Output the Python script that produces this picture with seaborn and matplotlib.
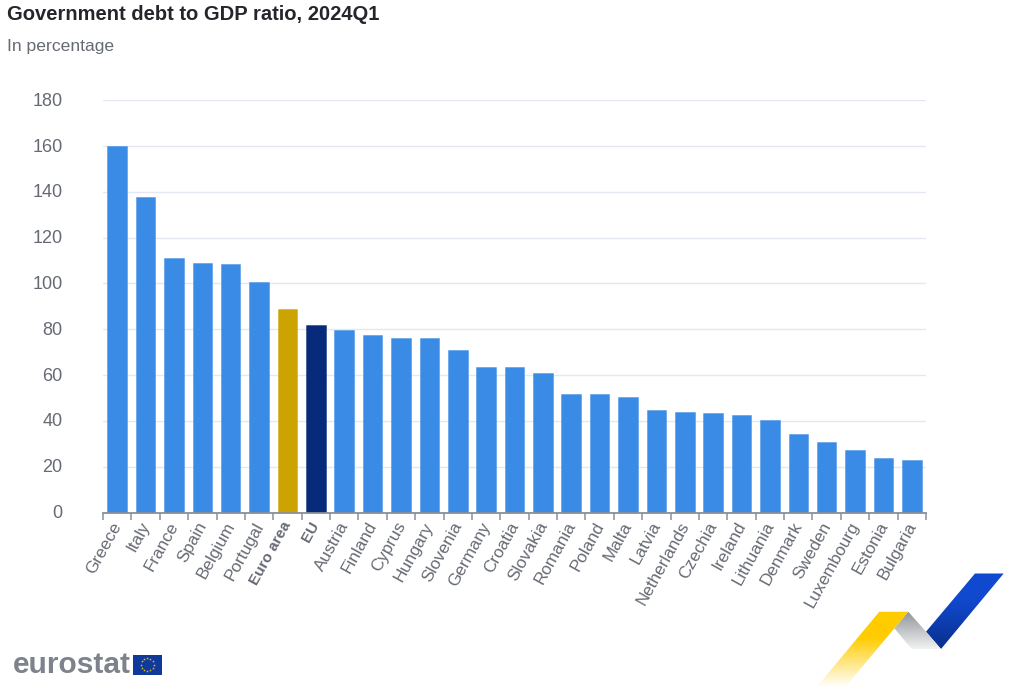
# Government debt to GDP ratio, 2024Q1 (eurostat style bar chart)
import numpy as np
import pandas as pd
import matplotlib
matplotlib.use("Agg")
import matplotlib.pyplot as plt
from matplotlib.patches import Polygon, Rectangle
from matplotlib.transforms import ScaledTranslation
import seaborn as sns

countries = ["Greece", "Italy", "France", "Spain", "Belgium", "Portugal", "Euro area", "EU",
             "Austria", "Finland", "Cyprus", "Hungary", "Slovenia", "Germany", "Croatia",
             "Slovakia", "Romania", "Poland", "Malta", "Latvia", "Netherlands", "Czechia",
             "Ireland", "Lithuania", "Denmark", "Sweden", "Luxembourg", "Estonia", "Bulgaria"]
debt = [160.0, 137.8, 111.0, 109.1, 108.4, 100.5, 89.0, 82.0,
        79.8, 77.5, 76.2, 76.1, 70.9, 63.4, 63.4,
        60.8, 51.6, 51.6, 50.4, 44.6, 44.0, 43.4,
        42.6, 40.3, 34.1, 30.9, 27.2, 23.7, 22.8]
yticks = [0, 20, 40, 60, 80, 100, 120, 140, 160, 180]

BLUE, GOLD, NAVY = "#3a8be6", "#cca300", "#082a7a"
TXT = "#666a73"

sns.set_theme(style="white")
plt.rcParams["font.family"] = ["Liberation Sans", "DejaVu Sans"]

df = pd.DataFrame({"country": countries, "debt": debt})
palette = {c: BLUE for c in countries}
palette["Euro area"] = GOLD
palette["EU"] = NAVY

W, H = 1028, 687
fig = plt.figure(figsize=(W / 100, H / 100), dpi=100, facecolor="white")
ax = fig.add_axes([103 / W, 1 - 512.5 / H, 823 / W, 412.3 / H])

sns.barplot(data=df, x="country", y="debt", hue="country", palette=palette,
            legend=False, width=0.69, saturation=1, ax=ax, zorder=3)

# thin lighter outline around the bars
for bar in ax.patches:
    fc = bar.get_facecolor()
    bar.set_edgecolor((fc[0], fc[1], fc[2], 0.45))
    bar.set_linewidth(0.7)

ax.set_xlim(-0.5, len(countries) - 0.5)
ax.set_ylim(0, 180)
ax.set_xlabel("")
ax.set_ylabel("")
ax.set_yticks(yticks)
ax.grid(axis="y", color="#e4e7f4", lw=1)
ax.set_axisbelow(True)
sns.despine(ax=ax, left=True)
ax.spines["bottom"].set_color("#8a8f98")
ax.spines["bottom"].set_linewidth(1.3)
ax.spines["bottom"].set_zorder(5)

# ticks sit between the bars, labels stay on the bar centres
ax.set_xticks(np.arange(len(countries)))
ax.set_xticks(np.arange(len(countries) + 1) - 0.5, minor=True)
ax.tick_params(axis="x", which="major", length=0, pad=5, labelsize=12.3, labelcolor=TXT)
ax.tick_params(axis="x", which="minor", length=5, width=1.1, color="#8a8f98", bottom=True)
ax.tick_params(axis="y", length=0, pad=29, labelsize=13, labelcolor=TXT)

shift_x = ScaledTranslation(-6 / 100, 0, fig.dpi_scale_trans)
shift_y = ScaledTranslation(0, 1 / 100, fig.dpi_scale_trans)
for lab in ax.get_xticklabels():
    lab.set_rotation(61)
    lab.set_ha("right")
    lab.set_va("top")
    lab.set_rotation_mode("anchor")
    lab.set_transform(lab.get_transform() + shift_x)
    if lab.get_text() in ("Euro area", "EU"):
        lab.set_fontweight("bold")
        lab.set_fontsize(11)
for lab in ax.get_yticklabels():
    lab.set_transform(lab.get_transform() + shift_y)

fig.text(7 / W, 1 - 15 / H, "Government debt to GDP ratio, 2024Q1", fontsize=14.5,
         fontweight="bold", color="#24262b", va="center", ha="left")
fig.text(7 / W, 1 - 46 / H, "In percentage", fontsize=12.6, color=TXT, va="center", ha="left")

# logos, drawn on an overlay in pixel coordinates
over = fig.add_axes([0, 0, 1, 1], facecolor="none")
over.set_xlim(0, W)
over.set_ylim(H, 0)
over.axis("off")


def ribbon(points, c0, c1, start, end):
    # polygon filled with a vertical colour gradient
    c0, c1 = np.array(matplotlib.colors.to_rgb(c0)), np.array(matplotlib.colors.to_rgb(c1))
    t = np.clip((np.linspace(0, 1, 120) - start) / (end - start), 0, 1)[:, None, None]
    img = c0[None, None, :] * (1 - t) + c1[None, None, :] * t
    xs, ys = zip(*points)
    im = over.imshow(img, extent=[min(xs), max(xs), max(ys), min(ys)], aspect="auto", zorder=2)
    poly = Polygon(points, closed=True, transform=over.transData, fc="none", ec="none")
    over.add_patch(poly)
    im.set_clip_path(poly)


ribbon([(975, 573.5), (1003.7, 573.5), (941, 649), (926, 631.7)], "#1049cf", "#0a2f8c", 0.35, 1)
ribbon([(908.3, 611.7), (926, 631.7), (941, 649), (911.7, 649), (894.3, 628.3)],
       "#8f9299", "#f2f4f2", 0, 1)
ribbon([(879.3, 611.7), (908.3, 611.7), (845.3, 687), (816.7, 687)], "#ffcc00", "#ffffff", 0.35, 1)
over.set_xlim(0, W)
over.set_ylim(H, 0)

over.text(13, 665, "eurostat", fontsize=21.5, fontweight="bold", color="#7d828b",
          va="center", ha="left")
over.add_patch(Rectangle((133, 654.5), 28.5, 20, fc="#0f3a9c", ec="none"))
angles = np.arange(12) * np.pi / 6
over.scatter(147.2 + 6.5 * np.cos(angles), 664.5 + 6.5 * np.sin(angles), s=4,
             color="#e8c020", marker="*", linewidths=0)

fig.savefig("out.png", dpi=100)
